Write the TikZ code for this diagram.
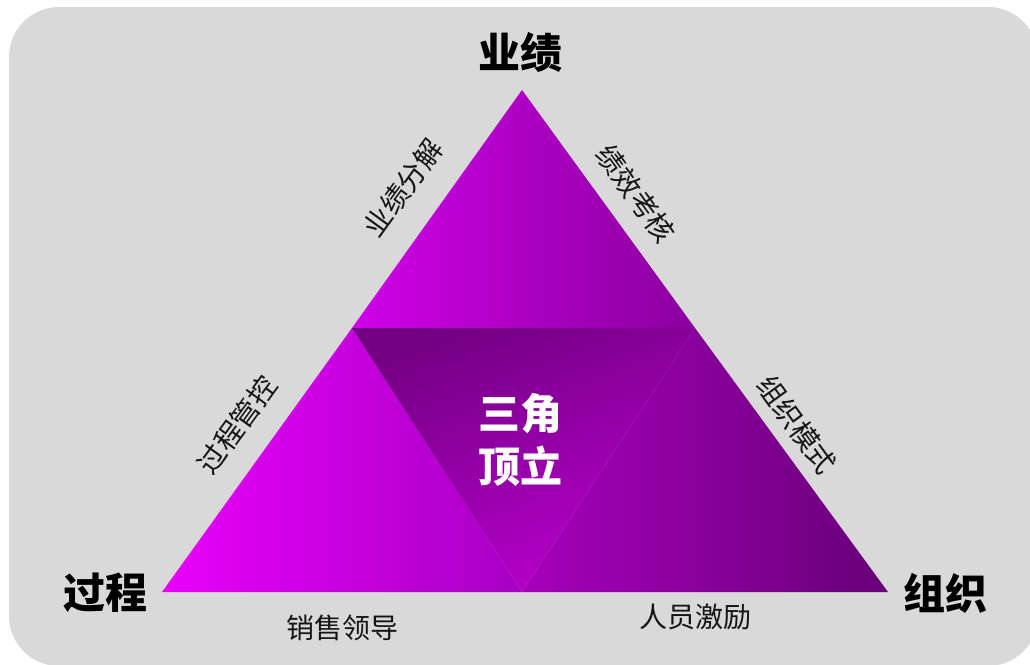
\documentclass[tikz,border=0pt]{standalone}
\usepackage{fontspec}
\newfontfamily\cjk{Noto Sans CJK SC}
\definecolor{bg}{RGB}{217,217,217}
\definecolor{topL}{RGB}{208,0,232}
\definecolor{topR}{RGB}{138,0,158}
\definecolor{lefL}{RGB}{232,0,250}
\definecolor{lefR}{RGB}{168,0,196}
\definecolor{rigL}{RGB}{166,0,186}
\definecolor{rigR}{RGB}{104,0,120}
\definecolor{cenT}{RGB}{116,0,132}
\definecolor{cenB}{RGB}{184,0,204}
\definecolor{txt}{RGB}{20,20,20}
\tikzset{
  corner/.style={font=\cjk\bfseries\fontsize{42}{48}\selectfont, text=black, inner sep=0pt},
  sidelab/.style={font=\cjk\fontsize{28}{32}\selectfont, text=txt, inner sep=0pt},
  baselab/.style={font=\cjk\fontsize{28}{32}\selectfont, text=txt, inner sep=0pt},
  centerlab/.style={font=\cjk\bfseries\fontsize{42}{53}\selectfont, text=white, align=center, inner sep=0pt}
}
\begin{document}
\begin{tikzpicture}[x=1pt,y=-1pt]
\useasboundingbox (0,0) rectangle (1030,664);
\begin{scope}
\clip (0,0) rectangle (1030,664);
\fill[bg, rounded corners=50pt] (9,7) rectangle (1038,666);
\end{scope}
% vertices
\coordinate (A) at (522,90);
\coordinate (L) at (162,592);
\coordinate (R) at (888,592);
\coordinate (ML) at (352,328);
\coordinate (MR) at (695,328);
\coordinate (MB) at (522,592);
% triangles
\shade[left color=topL, right color=topR] (A) -- (MR) -- (ML) -- cycle;
\shade[left color=lefL, right color=lefR] (ML) -- (MB) -- (L) -- cycle;
\shade[left color=rigL, right color=rigR] (MR) -- (R) -- (MB) -- cycle;
\shade[top color=cenT, bottom color=cenB, shading angle=20] (ML) -- (MR) -- (MB) -- cycle;
% corner labels
\node[corner] (yeji) at (520,52) {业绩};
\node[corner] (guocheng) at (105,593) {过程};
\node[corner] (zuzhi) at (945,593) {组织};
% center
\node[centerlab] (center) at (520,440) {三角\\顶立};
% side labels
\node[sidelab, rotate=54] (s1) at (403,188) {业绩分解};
\node[sidelab, rotate=-54] (s2) at (636,194) {绩效考核};
\node[sidelab, rotate=54] (s3) at (237,425) {过程管控};
\node[sidelab, rotate=-54] (s4) at (797,425) {组织模式};
% base labels
\node[baselab] (b1) at (342,628) {销售领导};
\node[baselab] (b2) at (695,617) {人员激励};
\end{tikzpicture}
\end{document}
